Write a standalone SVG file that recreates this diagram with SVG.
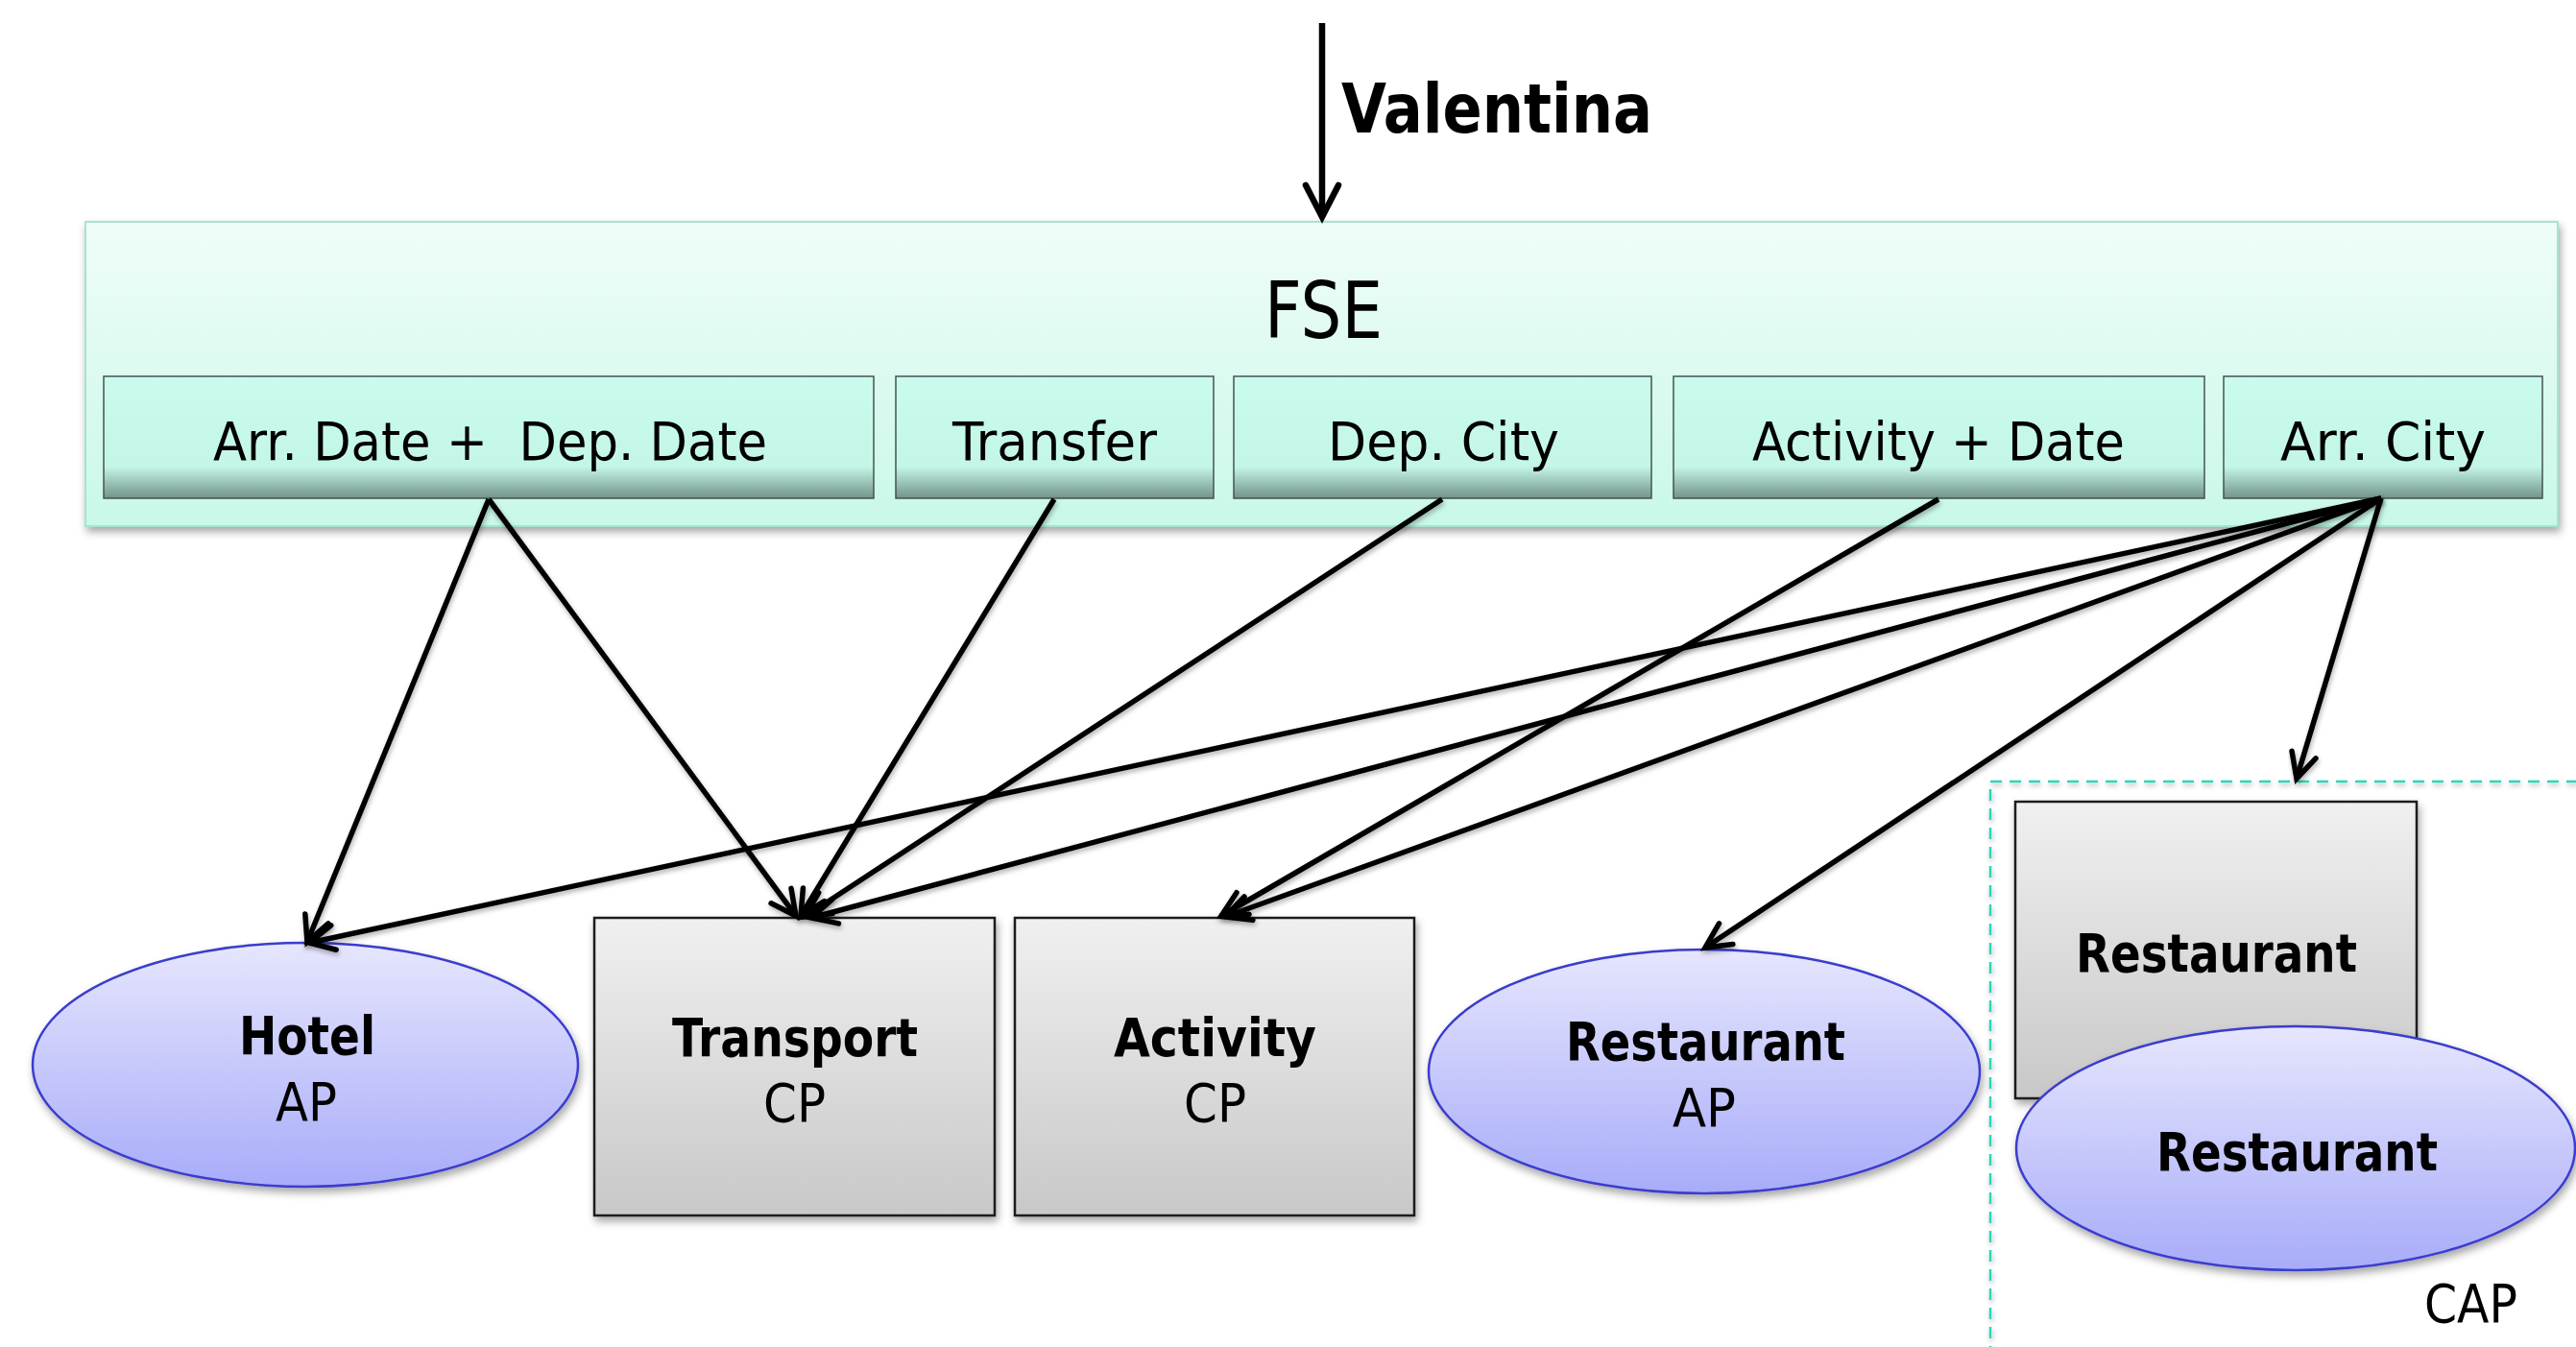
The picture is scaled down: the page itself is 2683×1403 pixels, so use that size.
<svg xmlns="http://www.w3.org/2000/svg" width="2683" height="1403" viewBox="0 0 2683 1403">
  <defs>
    <linearGradient id="gMain" x1="0" y1="0" x2="0" y2="1">
      <stop offset="0" stop-color="#effdf8"/>
      <stop offset="1" stop-color="#c9f8e8"/>
    </linearGradient>
    <linearGradient id="gSlot" x1="0" y1="0" x2="0" y2="1">
      <stop offset="0" stop-color="#c9fcee"/>
      <stop offset="0.74" stop-color="#c4f6e7"/>
      <stop offset="1" stop-color="#72938b"/>
    </linearGradient>
    <linearGradient id="gAP" x1="0" y1="0" x2="0" y2="1">
      <stop offset="0" stop-color="#e6e6fd"/>
      <stop offset="1" stop-color="#a8acf9"/>
    </linearGradient>
    <linearGradient id="gCP" x1="0" y1="0" x2="0" y2="1">
      <stop offset="0" stop-color="#f0f0f0"/>
      <stop offset="1" stop-color="#c8c8c8"/>
    </linearGradient>
    <filter id="shadow" x="-10%" y="-10%" width="120%" height="130%">
      <feDropShadow dx="2" dy="5" stdDeviation="4" flood-color="#000" flood-opacity="0.35"/>
    </filter>
    <filter id="lineShadow" x="-10%" y="-10%" width="120%" height="120%">
      <feDropShadow dx="1" dy="3" stdDeviation="2.5" flood-color="#000" flood-opacity="0.3"/>
    </filter>
    <marker id="arrow" markerUnits="userSpaceOnUse" markerWidth="40" markerHeight="40" refX="0" refY="0" viewBox="-34 -20 40 40" orient="auto" overflow="visible">
      <path d="M -26 -13 L 0 0 L -26 13" fill="none" stroke="#000" stroke-width="5.5" stroke-linecap="round"/>
    </marker>
    <marker id="arrowBig" markerUnits="userSpaceOnUse" markerWidth="50" markerHeight="50" refX="0" refY="0" viewBox="-40 -25 50 50" orient="auto" overflow="visible">
      <path d="M -33 -17 L 0 0 L -33 17" fill="none" stroke="#000" stroke-width="6.5" stroke-linecap="round"/>
    </marker>
  </defs>
  <style>
    text { font-family: "DejaVu Sans", "Liberation Sans", sans-serif; fill: #000; white-space: pre; }
    .slotText { font-size: 56px; }
    .nodeText { font-size: 56px; }
    .b { font-weight: bold; }
    .main { fill: url(#gMain); stroke: #a6e4cf; stroke-width: 2; filter: url(#shadow); }
    .slot { fill: url(#gSlot); stroke: #44544f; stroke-width: 1.5; }
    .ap { fill: url(#gAP); stroke: #3a3ccc; stroke-width: 2.5; filter: url(#shadow); }
    .cp { fill: url(#gCP); stroke: #1e1e1e; stroke-width: 2.5; filter: url(#shadow); }
    .cap { fill: none; stroke: #2fd5b6; stroke-width: 2.5; stroke-dasharray: 12 8; filter: url(#lineShadow); }
    .link { fill: none; stroke: #000; stroke-width: 5.5; marker-end: url(#arrow); filter: url(#lineShadow); }
  </style>

  <rect width="2683" height="1403" fill="#ffffff"/>

  <!-- FSE engine with its input slots -->
  <g id="fse">
    <rect class="main" x="89" y="231" width="2575" height="317"/>
    <text x="1317" y="352" font-size="82" textLength="123" lengthAdjust="spacingAndGlyphs">FSE</text>
  </g>
  <g id="slot-dates">
    <rect class="slot" x="108" y="392" width="802" height="127"/>
    <text class="slotText" x="222" y="479" textLength="577" lengthAdjust="spacingAndGlyphs">Arr. Date +  Dep. Date</text>
  </g>
  <g id="slot-transfer">
    <rect class="slot" x="933" y="392" width="331" height="127"/>
    <text class="slotText" x="992" y="479" textLength="213" lengthAdjust="spacingAndGlyphs">Transfer</text>
  </g>
  <g id="slot-depcity">
    <rect class="slot" x="1285" y="392" width="435" height="127"/>
    <text class="slotText" x="1383" y="479" textLength="241" lengthAdjust="spacingAndGlyphs">Dep. City</text>
  </g>
  <g id="slot-activity">
    <rect class="slot" x="1743" y="392" width="553" height="127"/>
    <text class="slotText" x="1825" y="479" textLength="388" lengthAdjust="spacingAndGlyphs">Activity + Date</text>
  </g>
  <g id="slot-arrcity">
    <rect class="slot" x="2316" y="392" width="332" height="127"/>
    <text class="slotText" x="2375" y="479" textLength="214" lengthAdjust="spacingAndGlyphs">Arr. City</text>
  </g>

  <!-- Service nodes -->
  <g id="hotel-ap">
    <ellipse class="ap" cx="318" cy="1109" rx="284" ry="127"/>
    <text class="nodeText b" x="249" y="1098" textLength="142" lengthAdjust="spacingAndGlyphs">Hotel</text>
    <text class="nodeText" x="287" y="1167" textLength="64" lengthAdjust="spacingAndGlyphs">AP</text>
  </g>
  <g id="transport-cp">
    <rect class="cp" x="619" y="956" width="417" height="310"/>
    <text class="nodeText b" x="700" y="1100" textLength="256" lengthAdjust="spacingAndGlyphs">Transport</text>
    <text class="nodeText" x="795" y="1168" textLength="65" lengthAdjust="spacingAndGlyphs">CP</text>
  </g>
  <g id="activity-cp">
    <rect class="cp" x="1057" y="956" width="416" height="310"/>
    <text class="nodeText b" x="1160" y="1100" textLength="211" lengthAdjust="spacingAndGlyphs">Activity</text>
    <text class="nodeText" x="1233" y="1168" textLength="65" lengthAdjust="spacingAndGlyphs">CP</text>
  </g>
  <g id="restaurant-ap">
    <ellipse class="ap" cx="1775" cy="1116" rx="287" ry="127"/>
    <text class="nodeText b" x="1631" y="1104" textLength="291" lengthAdjust="spacingAndGlyphs">Restaurant</text>
    <text class="nodeText" x="1742" y="1173" textLength="66" lengthAdjust="spacingAndGlyphs">AP</text>
  </g>
  <g id="restaurant-cap">
    <rect class="cap" x="2073" y="814" width="640" height="620"/>
    <rect class="cp" x="2099" y="835" width="418" height="309"/>
    <text class="nodeText b" x="2162" y="1012" textLength="293" lengthAdjust="spacingAndGlyphs">Restaurant</text>
    <ellipse class="ap" cx="2391" cy="1196" rx="291" ry="127"/>
    <text class="nodeText b" x="2246" y="1219" textLength="293" lengthAdjust="spacingAndGlyphs">Restaurant</text>
    <text class="nodeText" x="2525" y="1377" textLength="97" lengthAdjust="spacingAndGlyphs">CAP</text>
  </g>

  <!-- User input -->
  <g id="valentina">
    <line x1="1377" y1="24" x2="1377" y2="226" stroke="#000" stroke-width="6.5" marker-end="url(#arrowBig)"/>
    <text class="b" x="1397" y="138" font-size="72" textLength="324" lengthAdjust="spacingAndGlyphs">Valentina</text>
  </g>

  <!-- Slot-to-service connectors -->
  <g id="connectors">
    <line class="link" x1="509" y1="520" x2="320" y2="981"/>
    <line class="link" x1="509" y1="520" x2="829" y2="954"/>
    <line class="link" x1="1098" y1="520" x2="834" y2="954"/>
    <line class="link" x1="1502" y1="520" x2="838" y2="955"/>
    <line class="link" x1="2019" y1="520" x2="1272" y2="954"/>
    <line class="link" x1="2480" y1="519" x2="322" y2="982"/>
    <line class="link" x1="2480" y1="519" x2="845" y2="956"/>
    <line class="link" x1="2480" y1="519" x2="1276" y2="955"/>
    <line class="link" x1="2480" y1="519" x2="1776" y2="987"/>
    <line class="link" x1="2480" y1="519" x2="2392" y2="811"/>
  </g>
</svg>
